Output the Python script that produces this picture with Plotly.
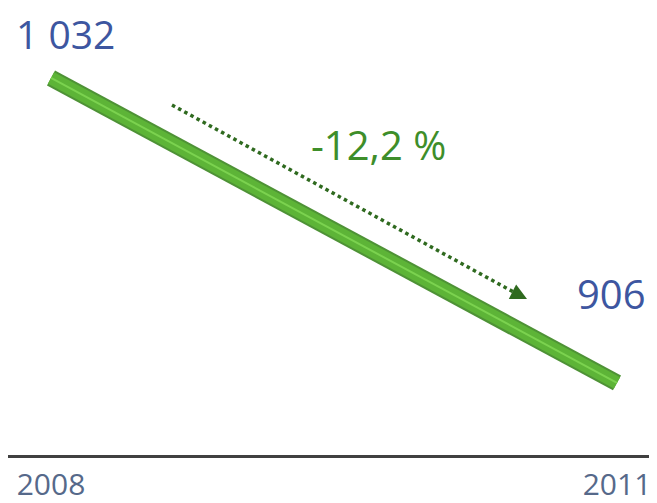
import plotly.graph_objects as go

years = [2008, 2011]
values = [1032, 906]
tick_labels = ["2008", "2011"]

def fmt(v):
    return f"{v:,}".replace(",", " ")

change = (values[-1] - values[0]) / values[0] * 100
change_label = f"{change:.1f} %".replace(".", ",")

# page body has an 8px margin, so the figure is drawn 8px right and down
OFF = 8
W, H = 657 - OFF, 503 - OFF
PH = 455 - OFF  # plot height (axis line position)
FONT = "Open Sans"
BLUE = "#3D56A0"
GREEN_TXT = "#3E8E2A"
ARROW = "#2F6A1F"

def px(x):
    return (x - OFF) / W

def py(y):
    return 1 - (y - OFF) / PH

fig = go.Figure()
# 3D-like ribbon: dark edge, body, highlight
fig.add_trace(go.Scatter(x=years, y=values, mode="lines",
                         line=dict(color="#4E9236", width=17), hoverinfo="skip"))
fig.add_trace(go.Scatter(x=years, y=values, mode="lines",
                         line=dict(color="#5DB437", width=13), hoverinfo="skip"))
fig.add_trace(go.Scatter(x=years, y=values, mode="lines",
                         line=dict(color="#7BD24F", width=2), hoverinfo="skip"))

# value labels
fig.add_annotation(x=years[0], y=values[0], text=fmt(values[0]), showarrow=False,
                   xanchor="center", yanchor="middle", borderpad=0,
                   xshift=14, yshift=44, font=dict(family=FONT, size=39, color=BLUE))
fig.add_annotation(x=years[-1], y=values[-1], text=fmt(values[-1]), showarrow=False,
                   xanchor="center", yanchor="middle", borderpad=0,
                   xshift=-6, yshift=89, font=dict(family=FONT, size=40, color=BLUE))

# change label
fig.add_annotation(xref="paper", yref="paper", x=px(378), y=py(145),
                   xanchor="center", yanchor="middle",
                   text=change_label, showarrow=False,
                   font=dict(family=FONT, size=40, color=GREEN_TXT))

# dotted arrow
fig.add_shape(type="line", xref="paper", yref="paper",
              x0=px(172), y0=py(105), x1=px(519), y1=py(295),
              line=dict(color=ARROW, width=3.5, dash="dot"))
fig.add_annotation(xref="paper", yref="paper", x=px(527), y=py(299),
                   ax=-10, ay=-5, text="", showarrow=True, arrowhead=2,
                   arrowsize=1.3, arrowwidth=2.5, arrowcolor=ARROW)

x_2008 = 51 - OFF
x_2011 = 617 - OFF
ppx = (x_2011 - x_2008) / 3.0  # pixels per year
fig.update_layout(
    width=W, height=H,
    margin=dict(l=0, r=0, t=0, b=H - PH),
    paper_bgcolor="white", plot_bgcolor="white",
    showlegend=False,
    xaxis=dict(range=[2008 - x_2008 / ppx, 2008 + (W - x_2008) / ppx], tickvals=years,
               ticktext=tick_labels, showgrid=False, zeroline=False,
               showline=True, linecolor="#404040", linewidth=3, ticks="",
               ticklabelstandoff=1, automargin=False,
               tickfont=dict(family=FONT, size=30, color="#56698A"),
               fixedrange=True),
    yaxis=dict(range=[876.2, 1060.9], visible=False, fixedrange=True),
)

fig.write_html("out.html")
